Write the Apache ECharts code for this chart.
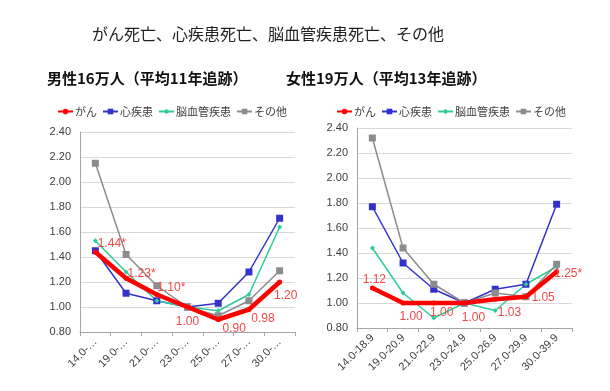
<!DOCTYPE html>
<html><head><meta charset="utf-8">
<script src="https://cdn.jsdelivr.net/npm/echarts@6/dist/echarts.min.js"></script>
<style>html,body{margin:0;padding:0;background:#fff}#c{width:610px;height:391px}</style>
</head><body><div id="c"></div>
<script>
const categories = ['14.0-18.9','19.0-20.9','21.0-22.9','23.0-24.9','25.0-26.9','27.0-29.9','30.0-39.9'];
const seriesNames = ['がん','心疾患','脳血管疾患','その他'];
const yTicks = [0.8,1.0,1.2,1.4,1.6,1.8,2.0,2.2,2.4];

// 男性
const maleCancer = [1.44,1.23,1.10,1.00,0.90,0.98,1.20];
const maleCancerLabels = ['1.44*','1.23*','1.10*','1.00','0.90','0.98','1.20'];
const maleHeart = [1.45,1.11,1.05,1.00,1.03,1.28,1.71];
const maleStroke = [1.53,1.28,1.05,1.00,0.97,1.10,1.64];
const maleOther = [2.15,1.42,1.17,1.00,0.93,1.05,1.29];
// 女性
const femCancer = [1.12,1.00,1.00,1.00,1.03,1.05,1.25];
const femCancerLabels = ['1.12','1.00','1.00','1.00','1.03','1.05','1.25*'];
const femHeart = [1.77,1.32,1.11,1.00,1.11,1.15,1.79];
const femStroke = [1.44,1.08,0.88,1.00,0.94,1.15,1.29];
const femOther = [2.32,1.44,1.15,1.00,1.08,1.05,1.31];

const mainTitle = 'がん死亡、心疾患死亡、脳血管疾患死亡、その他';
const maleTitle = '男性16万人（平均11年追跡）';
const femTitle = '女性19万人（平均13年追跡）';

const FONT = '"Noto Sans CJK JP","Liberation Sans",sans-serif';
const colors = ['#ff0000','#3333cc','#2ecc9a','#8c8c8c'];
const labelColor = '#f04848';

const maleLabelPos = [
  {position:'right', offset:[-5,-8]},
  {position:'right', offset:[-6,-5]},
  {position:'right', offset:[-7,-7]},
  {position:'bottom', offset:[0,1]},
  {position:'bottom', offset:[16,-4]},
  {position:'bottom', offset:[14,-4]},
  {position:'bottom', offset:[6,0]}
];
const femLabelPos = [
  {position:'top', offset:[2,5]},
  {position:'bottom', offset:[8,0]},
  {position:'bottom', offset:[8,-4]},
  {position:'bottom', offset:[9,1]},
  {position:'right', offset:[-5,13]},
  {position:'right', offset:[-2,1]},
  {position:'right', offset:[-10,2]}
];

function cancerData(vals, labels, pos){
  return vals.map((v,i)=>({value:v, label:Object.assign({show:true, formatter:labels[i], color:labelColor, fontSize:12, fontFamily:'"Liberation Sans",sans-serif'}, pos[i])}));
}

function mkSeries(idx, data4){
  const out = [];
  data4.forEach((d,k)=>{
    const base = {name:seriesNames[k], type:'line', xAxisIndex:idx, yAxisIndex:idx, data:d, color:colors[k], animation:false, z: k===0?10:5};
    if(k===0){ Object.assign(base,{symbol:'circle', symbolSize:5, lineStyle:{width:4.5}}); }
    else if(k===2){ Object.assign(base,{symbol:'diamond', symbolSize:5, lineStyle:{width:1.5}}); }
    else { Object.assign(base,{symbol:'rect', symbolSize:7, lineStyle:{width:1.5}}); }
    out.push(base);
  });
  return out;
}

function xAxis(idx, truncate){
  return {type:'category', gridIndex:idx, data:categories, boundaryGap:true,
    axisLine:{lineStyle:{color:'#a6a6a6'}}, axisTick:{show:true, length:4, lineStyle:{color:'#a6a6a6'}},
    axisLabel:{rotate:45, fontSize:11, color:'#404040', fontFamily:'"Liberation Sans",sans-serif', margin:8, interval:0,
      formatter: v => truncate ? v.substring(0,5)+'…' : v}};
}
function yAxis(idx){
  return {type:'value', gridIndex:idx, min:yTicks[0], max:yTicks[yTicks.length-1], interval:0.2,
    axisLine:{show:true, lineStyle:{color:'#a6a6a6'}}, axisTick:{show:false},
    splitLine:{lineStyle:{color:'#d9d9d9'}},
    axisLabel:{fontSize:11, color:'#404040', fontFamily:'"Liberation Sans",sans-serif', margin:9, formatter:v=>v.toFixed(2)}};
}
function legend(left, top){
  return {left:left, top:top, padding:0, itemWidth:15, itemHeight:7, itemGap:5, data:seriesNames,
    textStyle:{fontSize:11, color:'#404040', fontFamily:FONT, padding:[0,0,0,-3]}};
}

const chart = echarts.init(document.getElementById('c'), null, {renderer:'canvas'});
chart.setOption({
  animation:false,
  title:[
    {text:mainTitle, left:87, top:21, textStyle:{fontSize:16, fontWeight:'normal', color:'#222', fontFamily:FONT}},
    {text:maleTitle, left:42, top:66, textStyle:{fontSize:15, fontWeight:'bold', color:'#111', fontFamily:FONT}},
    {text:femTitle, left:281, top:66, textStyle:{fontSize:15, fontWeight:'bold', color:'#111', fontFamily:FONT}}
  ],
  legend:[legend(57,106), legend(336,106)],
  grid:[
    {left:80, right:315, top:132, bottom:59},
    {left:357, right:38, top:128, bottom:63}
  ],
  xAxis:[xAxis(0,true), xAxis(1,false)],
  yAxis:[yAxis(0), yAxis(1)],
  series:[
    ...mkSeries(0,[cancerData(maleCancer,maleCancerLabels,maleLabelPos), maleHeart, maleStroke, maleOther]),
    ...mkSeries(1,[cancerData(femCancer,femCancerLabels,femLabelPos), femHeart, femStroke, femOther])
  ]
});
</script></body></html>
